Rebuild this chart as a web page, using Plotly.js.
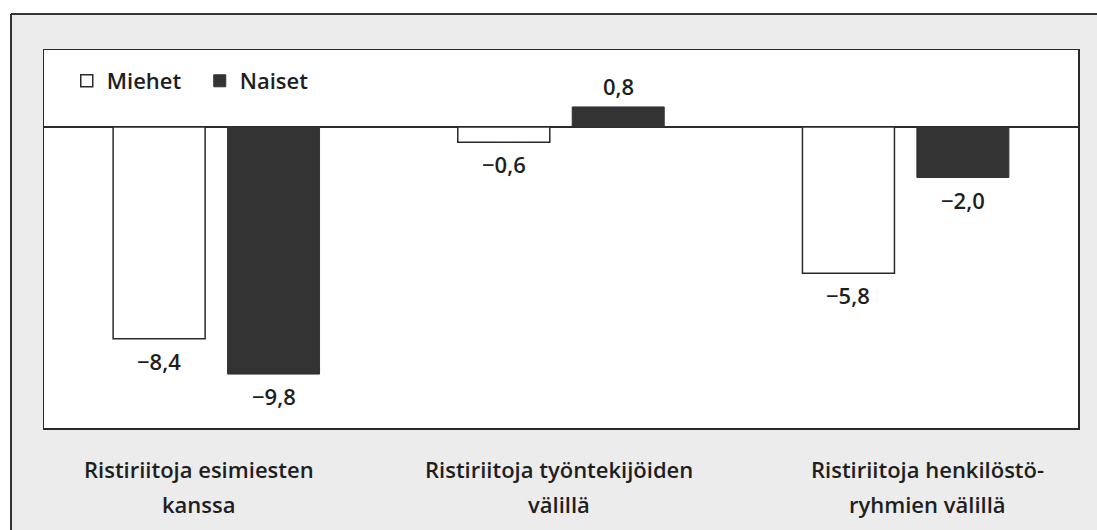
<!DOCTYPE html>
<html>
<head>
<meta charset="utf-8">
<script src="https://cdn.plot.ly/plotly-3.0.1.min.js"></script>
<style>html,body{margin:0;padding:0;background:#fff;}#chart{width:1097px;height:530px;}</style>
</head>
<body>
<div id="chart"></div>
<script>
const categories = ["Ristiriitoja esimiesten kanssa", "Ristiriitoja työntekijöiden välillä", "Ristiriitoja henkilöstö-ryhmien välillä"];
const labelLine1 = ["Ristiriitoja esimiesten", "Ristiriitoja työntekijöiden", "Ristiriitoja henkilöstö-"];
const labelLine2 = ["kanssa", "välillä", "ryhmien välillä"];
const seriesNames = ["Miehet", "Naiset"];
const miehet = [-8.4, -0.6, -5.8];
const naiset = [-9.8, 0.8, -2.0];

const FONT = "Open Sans, Lato, sans-serif";
const TXT = "#1e1e1e";
const WEIGHT = 600;
const fmt = v => (v < 0 ? "\u2212" : "") + Math.abs(v).toFixed(1).replace(".", ",");

const bargap = 0.336, bargroupgap = 0.196;
const half = (1 - bargap) / 4; // offset of each bar centre from category centre
const labelShift = [-17, -2, 22];

const traces = [
  {type: "bar", name: seriesNames[0], x: categories, y: miehet,
   marker: {color: "#ffffff", line: {color: "#2a2a2a", width: 1.5}}, hoverinfo: "none"},
  {type: "bar", name: seriesNames[1], x: categories, y: naiset,
   marker: {color: "#333333", line: {color: "#333333", width: 1}}, hoverinfo: "none"}
];

const annotations = [];
[miehet, naiset].forEach((vals, i) => {
  vals.forEach((v, j) => {
    annotations.push({
      x: j + (i === 0 ? -half : half), y: v, xref: "x", yref: "y",
      text: fmt(v), showarrow: false, yanchor: "middle",
      yshift: v < 0 ? -22 : 21,
      font: {family: FONT, size: 22, color: TXT, weight: WEIGHT}
    });
  });
});
labelLine1.forEach((t, j) => {
  annotations.push({x: j, y: -0.108, xref: "x", yref: "paper", text: t, showarrow: false,
    yanchor: "middle", xshift: labelShift[j], font: {family: FONT, size: 22, color: TXT, weight: WEIGHT}});
});
labelLine2.forEach((t, j) => {
  annotations.push({x: j, y: -0.2, xref: "x", yref: "paper", text: t, showarrow: false,
    yanchor: "middle", xshift: labelShift[j], font: {family: FONT, size: 22, color: TXT, weight: WEIGHT}});
});

const layout = {
  width: 1097, height: 530,
  margin: {l: 44, r: 19, t: 50, b: 102, pad: 0},
  paper_bgcolor: "#ececec",
  plot_bgcolor: "#ffffff",
  barmode: "group", bargap: bargap, bargroupgap: bargroupgap,
  showlegend: true,
  legend: {orientation: "h", x: 0.022, y: 0.918, xanchor: "left", yanchor: "middle",
    entrywidth: 88, entrywidthmode: "pixels",
    bgcolor: "rgba(0,0,0,0)", font: {family: FONT, size: 22, color: TXT, weight: WEIGHT}, traceorder: "normal"},
  xaxis: {type: "category", range: [-0.5, 2.5], showticklabels: false, ticks: "",
    showgrid: false, zeroline: false, showline: true, mirror: true, linecolor: "#2a2a2a", linewidth: 1.5, fixedrange: true},
  yaxis: {range: [-11.94, 3.06], showticklabels: false, ticks: "", showgrid: false,
    zeroline: true, zerolinecolor: "#2a2a2a", zerolinewidth: 1.5,
    showline: true, mirror: true, linecolor: "#2a2a2a", linewidth: 1.5, fixedrange: true},
  annotations: annotations,
  shapes: [
    {type: "rect", xref: "paper", yref: "paper", x0: -0.1, x1: 1.1, y0: 1.0952, y1: 1.2, fillcolor: "#ffffff", line: {width: 0}, layer: "below"},
    {type: "rect", xref: "paper", yref: "paper", x0: -0.1, x1: -0.0319, y0: -0.4, y1: 1.2, fillcolor: "#ffffff", line: {width: 0}, layer: "below"},
    {type: "line", xref: "paper", yref: "paper", x0: -0.0319, x1: 1.1, y0: 1.0952, y1: 1.0952, line: {color: "#333", width: 2}},
    {type: "line", xref: "paper", yref: "paper", x0: -0.0319, x1: -0.0319, y0: -0.4, y1: 1.0952, line: {color: "#333", width: 2}}
  ]
};

Plotly.newPlot("chart", traces, layout, {displayModeBar: false, staticPlot: true});
</script>
</body>
</html>
